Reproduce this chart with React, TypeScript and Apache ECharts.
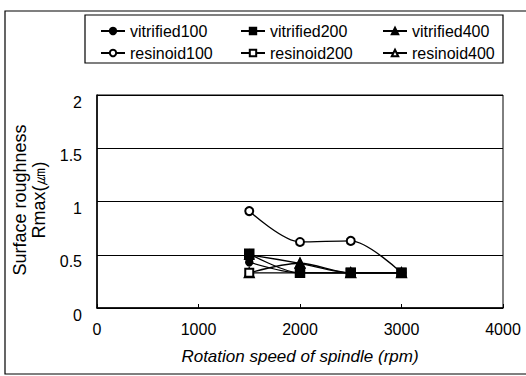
import React, { useEffect, useRef } from "react";
import * as echarts from "echarts";

const speeds = [1500, 2000, 2500, 3000];
const seriesNames = ["vitrified100", "vitrified200", "vitrified400", "resinoid100", "resinoid200", "resinoid400"];
const vitrified100 = [0.43, 0.33, 0.33, 0.33];
const vitrified200 = [0.51, 0.33, 0.33, 0.33];
const vitrified400 = [0.5, 0.42, 0.33, 0.33];
const resinoid100 = [0.91, 0.62, 0.63, 0.33];
const resinoid200 = [0.33, 0.33, 0.33, 0.33];
const resinoid400 = [0.33, 0.42, 0.33, 0.33];
const symbols = ["circle", "rect", "triangle", "emptyCircle", "emptyRect", "emptyTriangle"];
const symbolSizes = [7, 9, 9, 8, 8, 9];
const seriesZ = [5, 5, 5, 3, 4, 3];
const xTicks = [0, 1000, 2000, 3000, 4000];
const yTicks = [0, 0.5, 1, 1.5, 2];

const FONT = "'Liberation Sans', Arial, sans-serif";

export default function App() {
  const ref = useRef<HTMLDivElement>(null);
  useEffect(() => {
    if (!ref.current) return;
    const chart = echarts.init(ref.current, undefined, { renderer: "svg" });
    const values = [vitrified100, vitrified200, vitrified400, resinoid100, resinoid200, resinoid400];
    const legendPos = [
      [100, 23], [240, 23], [382, 23],
      [100, 45], [240, 45], [382, 45],
    ];
    chart.setOption({
      animation: false,
      backgroundColor: "#fff",
      textStyle: { fontFamily: FONT },
      grid: {
        left: 97, right: 23, top: 95, bottom: 68,
        show: true, borderColor: "#000", borderWidth: 1,
      },
      legend: seriesNames.map((n, i) => ({
        data: [n],
        left: legendPos[i][0],
        top: legendPos[i][1],
        padding: 0,
        itemWidth: 24,
        itemHeight: 8,
        itemGap: 4,
        textStyle: { fontFamily: FONT, fontSize: 16, color: "#000" },
      })),
      xAxis: {
        type: "value",
        min: xTicks[0],
        max: xTicks[xTicks.length - 1],
        interval: 1000,
        name: "Rotation speed of spindle (rpm)",
        nameLocation: "middle",
        nameGap: 40,
        nameTextStyle: { fontFamily: FONT, fontSize: 17, fontStyle: "italic", color: "#000" },
        axisLine: { show: true, lineStyle: { color: "#000", width: 1.5 } },
        axisTick: { show: true, inside: true, length: 4, lineStyle: { color: "#000" } },
        axisLabel: {
          fontFamily: FONT, fontSize: 16, color: "#000", margin: 13,
          formatter: (v: number) => String(v),
        },
        splitLine: { show: false },
      },
      yAxis: {
        type: "value",
        min: yTicks[0],
        max: yTicks[yTicks.length - 1],
        interval: 0.5,
        axisLine: { show: true, lineStyle: { color: "#000", width: 1.5 } },
        axisTick: { show: false },
        axisLabel: {
          fontFamily: FONT, fontSize: 16, color: "#000", margin: 15,
          verticalAlign: "top", lineHeight: 14,
          formatter: (v: number) => String(v),
        },
        splitLine: { show: true, lineStyle: { color: "#000", width: 1 } },
      },
      graphic: [
        {
          type: "rect",
          shape: { x: 5, y: 11, width: 530, height: 363 },
          style: { fill: "none", stroke: "#000", lineWidth: 1.2 },
          silent: true,
          z: -1,
        },
        {
          type: "rect",
          shape: { x: 85, y: 15, width: 418, height: 48 },
          style: { fill: "none", stroke: "#000", lineWidth: 1.2 },
          silent: true,
        },
        {
          type: "text",
          x: 29,
          y: 200,
          rotation: Math.PI / 2,
          style: {
            text: "Surface roughness\nRmax(㎛)",
            fontFamily: FONT,
            fontSize: 18,
            lineHeight: 19,
            fill: "#000",
            align: "center",
            verticalAlign: "middle",
          },
        },
      ],
      series: seriesNames.map((n, i) => ({
        name: n,
        type: "line",
        smooth: 0.3,
        z: seriesZ[i],
        data: speeds.map((s, j) => [s, values[i][j]]),
        symbol: symbols[i],
        symbolSize: symbolSizes[i],
        showAllSymbol: true,
        lineStyle: { color: "#000", width: 1.3 },
        itemStyle: { color: "#000", borderColor: "#000", borderWidth: 1.5 },
        emphasis: { disabled: true },
      })),
    });
    return () => chart.dispose();
  }, []);
  return <div ref={ref} style={{ width: 526, height: 376, position: "absolute", left: 0, top: 0 }} />;
}
